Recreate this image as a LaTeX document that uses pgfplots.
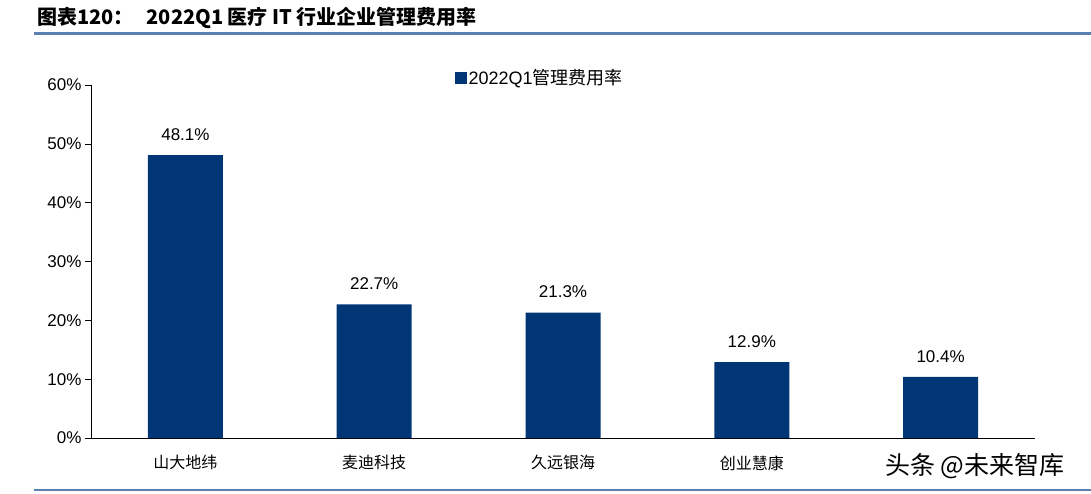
\documentclass[border=0pt]{standalone}
\usepackage{pgfplots}
\pgfplotsset{compat=1.18}
\usepackage{fontspec}
\setmainfont{Liberation Sans}
\newfontfamily\cjk{Noto Sans CJK SC}
\definecolor{barblue}{HTML}{003576}
\definecolor{rule}{HTML}{5B7FB0}

\begin{document}
\begin{tikzpicture}
  \useasboundingbox (0pt,0pt) rectangle (1091pt,493pt);
  % title and rules
  \fill[rule] (34pt,458pt) rectangle (1091pt,461pt);
  \fill[rule] (34pt,2pt) rectangle (1091pt,4.5pt);
  \node[anchor=west,inner sep=0pt] at (37pt,475pt)
    {\fontsize{20}{22}\selectfont\bfseries\cjk 图表120：\hspace{13pt}2022Q1 医疗 IT 行业企业管理费用率};
  \begin{axis}[
      at={(91pt,55pt)},anchor=south west,
      scale only axis,width=944pt,height=353pt,
      ybar,bar width=75pt,
      xmin=-0.5,xmax=4.5,ymin=0,ymax=60,
      xtick={0,1,2,3,4},
      xticklabels={山大地纬,麦迪科技,久远银海,创业慧康,},
      xticklabel style={font=\fontsize{16}{18}\selectfont\cjk,yshift=-8pt},
      extra x ticks={-0.5,0.5,1.5,2.5,3.5,4.5},
      extra x tick labels={},
      extra x tick style={major tick length=6pt,tick style={draw=black,thin},
        xtick pos=bottom, tick align=outside},
      major x tick style={draw=none},
      ytick={0,10,20,30,40,50,60},
      yticklabel={\pgfmathprintnumber{\tick}\%},
      yticklabel style={font=\fontsize{17}{19}\selectfont},
      /pgf/number format/assume math mode=true,
      axis x line*=bottom,axis y line*=left,
      x axis line style={draw=black,thin,-},
      y axis line style={draw=black,thin,-},
      ytick style={draw=black,thin},
      ytick align=outside,major tick length=6pt,
      nodes near coords={\pgfmathprintnumber[fixed,fixed zerofill,precision=1]{\pgfplotspointmeta}\%},
      nodes near coords style={font=\fontsize{17}{19}\selectfont,text=black,yshift=11pt},
      legend style={at={(0.385,1.02)},anchor=west,draw=none,fill=none,
        font=\fontsize{18}{20}\selectfont,inner sep=0pt},
      legend image code/.code={\fill[barblue] (0pt,-6pt) rectangle (12pt,6pt);},
      clip=false,
    ]
    \addplot[fill=barblue,draw=none] coordinates {(0,48.1)(1,22.7)(2,21.3)(3,12.9)(4,10.4)};
    \addlegendentry{2022Q1{\cjk 管理费用率}}
  \end{axis}
  \node[inner sep=1pt,fill=white,anchor=center] at (975pt,27pt)
    {\fontsize{25}{27}\selectfont\cjk 头条 @未来智库};
\end{tikzpicture}
\end{document}
